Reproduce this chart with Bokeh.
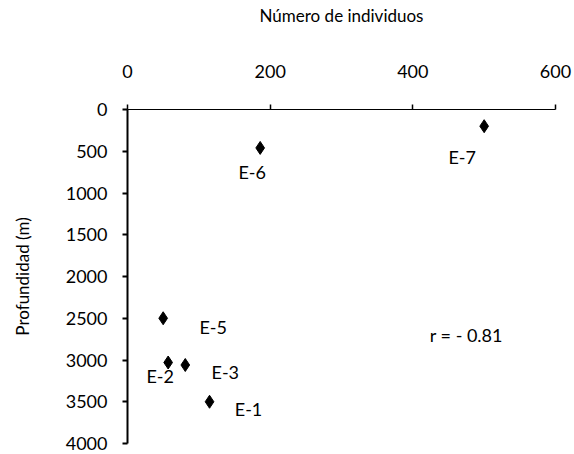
from bokeh.plotting import figure
from bokeh.models import ColumnDataSource, Range1d, LinearAxis, Label, FixedTicker
from bokeh.core.properties import value
from bokeh.embed import file_html
from bokeh.resources import INLINE

# Sampling stations: number of individuals vs. depth
stations = ["E-1", "E-2", "E-3", "E-5", "E-6", "E-7"]
individuos = [115, 57, 81, 50, 186, 500]
profundidad = [3500, 3030, 3060, 2500, 460, 200]

x_ticks = [0, 200, 400, 600]
y_ticks = [0, 500, 1000, 1500, 2000, 2500, 3000, 3500, 4000]

# label offsets in screen pixels (relative to each marker)
label_dx = [39, -8, 40, 50, -8, -22]
label_dy = [7, 13, 7, 9, 24, 31]

FONT = "Lato"

src = ColumnDataSource(dict(x=individuos, y=profundidad, name=stations,
                            dx=label_dx, dy=label_dy))

p = figure(width=574, height=454, output_backend="svg", toolbar_location=None,
           x_range=Range1d(0, 600), y_range=Range1d(4000, 0),
           x_axis_location=None, y_axis_location=None,
           min_border_left=127, min_border_right=19,
           min_border_top=109, min_border_bottom=11)
p.outline_line_color = None
p.grid.visible = False
p.background_fill_color = "white"

xa = LinearAxis(axis_label="Número de individuos", ticker=FixedTicker(ticks=x_ticks))
ya = LinearAxis(axis_label="Profundidad (m)", ticker=FixedTicker(ticks=y_ticks))
for ax in (xa, ya):
    ax.axis_line_color = "black"
    ax.major_tick_line_color = "black"
    ax.minor_tick_line_color = None
    ax.major_tick_in = 0
    ax.major_label_text_font = FONT
    ax.major_label_text_font_size = "18px"
    ax.major_label_text_color = "black"
    ax.axis_label_text_font = FONT
    ax.axis_label_text_font_size = "17px"
    ax.axis_label_text_font_style = "normal"
    ax.axis_label_text_color = "black"

xa.axis_line_width = 1.2
xa.major_tick_out = 5
xa.major_tick_line_width = 1.5
xa.major_label_standoff = 27
xa.axis_label_standoff = 36

ya.axis_line_width = 2
ya.major_tick_out = 5
ya.major_tick_line_width = 2
ya.major_label_standoff = 15
ya.axis_label_standoff = 30

p.add_layout(xa, "above")
p.add_layout(ya, "left")

p.scatter("x", "y", source=src, marker="diamond", size=13, color="black")
p.text("x", "y", text="name", source=src, x_offset="dx", y_offset="dy",
       text_align="center", text_baseline="middle",
       text_font=value(FONT), text_font_size="18px", text_color="black")

p.add_layout(Label(x=475, y=2700, text="r = - 0.81", text_align="center",
                   text_baseline="middle", text_font=FONT,
                   text_font_size="18px", text_color="black"))

open("out.html", "w").write(file_html(p, INLINE))
